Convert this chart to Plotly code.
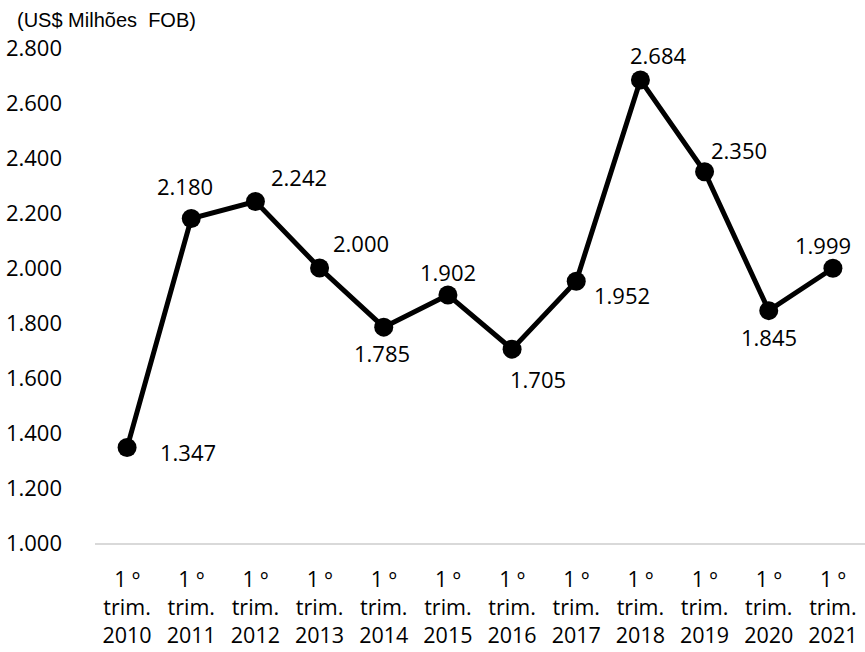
import plotly.graph_objects as go

years = ["2010", "2011", "2012", "2013", "2014", "2015", "2016", "2017", "2018", "2019", "2020", "2021"]
categories = ["1 º<br>trim.<br>" + y for y in years]
values = [1347, 2180, 2242, 2000, 1785, 1902, 1705, 1952, 2684, 2350, 1845, 1999]
value_labels = ["1.347", "2.180", "2.242", "2.000", "1.785", "1.902", "1.705", "1.952", "2.684", "2.350", "1.845", "1.999"]
tick_vals = [1000, 1200, 1400, 1600, 1800, 2000, 2200, 2400, 2600, 2800]
tick_text = ["1.000", "1.200", "1.400", "1.600", "1.800", "2.000", "2.200", "2.400", "2.600", "2.800"]

# label offsets (pixels) -- styling only
label_dx = [61, -6, 44, 41, -2, 0, 26, 46, 18, 34, 0, -10]
label_dy = [-4, 33, 24, 25, -26, 23, -30, -14, 25, 22, -26, 23]

FONT = "Open Sans, Noto Sans, sans-serif"
FS = 22

fig = go.Figure()
fig.add_trace(go.Scatter(
    x=categories, y=values, mode="lines+markers",
    line=dict(color="black", width=5),
    marker=dict(color="black", size=19),
    hoverinfo="skip",
))

for c, v, t, dx, dy in zip(categories, values, value_labels, label_dx, label_dy):
    fig.add_annotation(x=c, y=v, text=t, showarrow=False, xshift=dx, yshift=dy,
                       font=dict(family=FONT, size=FS, color="black"))

fig.add_annotation(xref="paper", yref="paper", x=0, y=1, xshift=-80, yshift=28,
                   xanchor="left", yanchor="middle", showarrow=False,
                   text="(US$ Milhões  FOB)",
                   font=dict(family="Liberation Sans, Arial, sans-serif", size=20, color="black"))

fig.update_layout(
    width=865, height=652,
    margin=dict(l=95, r=0, t=48, b=109),
    paper_bgcolor="white", plot_bgcolor="white",
    showlegend=False,
    font=dict(family=FONT, size=FS, color="black"),
    xaxis=dict(showgrid=False, zeroline=False, showline=True, linecolor="#d9d9d9", linewidth=2,
               ticks="", tickfont=dict(family=FONT, size=21.5, color="black"), ticklabelstandoff=16,
               range=[-0.5, 11.5], automargin=False),
    yaxis=dict(range=[1000, 2800], tickvals=tick_vals, ticktext=tick_text, showgrid=False,
               zeroline=False, showline=False, ticks="", ticklabelstandoff=32,
               tickfont=dict(family=FONT, size=FS, color="black"), automargin=False),
)

fig.write_html("out.html")
